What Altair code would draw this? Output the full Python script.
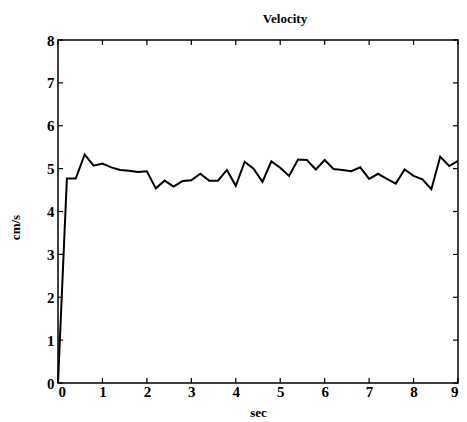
import altair as alt
import pandas as pd

t_sec = [0.0, 0.2, 0.4, 0.6, 0.8, 1.0, 1.2, 1.4, 1.6, 1.8,
         2.0, 2.2, 2.4, 2.6, 2.8, 3.0, 3.2, 3.4, 3.6, 3.8,
         4.0, 4.2, 4.4, 4.6, 4.8, 5.0, 5.2, 5.4, 5.6, 5.8,
         6.0, 6.2, 6.4, 6.6, 6.8, 7.0, 7.2, 7.4, 7.6, 7.8,
         8.0, 8.2, 8.4, 8.6, 8.8, 9.0]
velocity = [0.00, 4.77, 4.77, 5.33, 5.07, 5.12, 5.03, 4.97, 4.95, 4.92,
            4.94, 4.54, 4.72, 4.58, 4.71, 4.73, 4.88, 4.72, 4.72, 4.97,
            4.60, 5.16, 5.00, 4.69, 5.17, 5.02, 4.83, 5.21, 5.20, 4.98,
            5.20, 4.99, 4.97, 4.94, 5.03, 4.76, 4.88, 4.76, 4.65, 4.98,
            4.83, 4.75, 4.52, 5.28, 5.06, 5.18]
x_ticks = [0, 1, 2, 3, 4, 5, 6, 7, 8, 9]
y_ticks = [0, 1, 2, 3, 4, 5, 6, 7, 8]

W, H = 400, 343
FONT = "Liberation Serif"

df = pd.DataFrame({"t": t_sec, "v": velocity})
xt = pd.DataFrame({"t": x_ticks})
yt = pd.DataFrame({"v": y_ticks})

xscale = alt.Scale(domain=[0, 9], nice=False, zero=False)
yscale = alt.Scale(domain=[0, 8], nice=False, zero=False)

xaxis = alt.Axis(values=x_ticks, ticks=False, domain=False, grid=False,
                 labelFont=FONT, labelFontWeight="bold", labelFontSize=15,
                 labelPadding=1, labelColor="black",
                 titleFont=FONT, titleFontWeight="bold", titleFontSize=13,
                 titleColor="black", titlePadding=7)
yaxis = alt.Axis(values=y_ticks, ticks=False, domain=False, grid=False,
                 labelFont=FONT, labelFontWeight="bold", labelFontSize=15,
                 labelPadding=4, labelColor="black",
                 titleFont=FONT, titleFontWeight="bold", titleFontSize=13,
                 titleColor="black", titlePadding=24, titleY=187)

X = alt.X("t:Q", scale=xscale, title="sec", axis=xaxis)
Y = alt.Y("v:Q", scale=yscale, title="cm/s", axis=yaxis)

line = alt.Chart(df).mark_line(color="black", strokeWidth=2).encode(x=X, y=Y)

bottom = alt.Chart(xt).mark_rule(color="black", strokeWidth=1.2).encode(
    x=X, y=alt.value(H), y2=alt.value(H - 5))
top = alt.Chart(xt).mark_rule(color="black", strokeWidth=1.2).encode(
    x=X, y=alt.value(0), y2=alt.value(5))
left = alt.Chart(yt).mark_rule(color="black", strokeWidth=1.2).encode(
    y=Y, x=alt.value(0), x2=alt.value(5))
right = alt.Chart(yt).mark_rule(color="black", strokeWidth=1.2).encode(
    y=Y, x=alt.value(W), x2=alt.value(W - 5))

chart = alt.layer(line, bottom, top, left, right).properties(
    width=W, height=H,
    background="white",
    title=alt.TitleParams("Velocity", font=FONT, fontSize=13, fontWeight="bold",
                          color="black", dx=27, offset=7),
    autosize=alt.AutoSizeParams(type="none"),
    padding={"left": 50, "top": 32, "right": 1, "bottom": 38},
).configure_view(stroke="black", strokeWidth=1.5)

chart.save("out.html", embed_options={"renderer": "svg", "actions": False})
